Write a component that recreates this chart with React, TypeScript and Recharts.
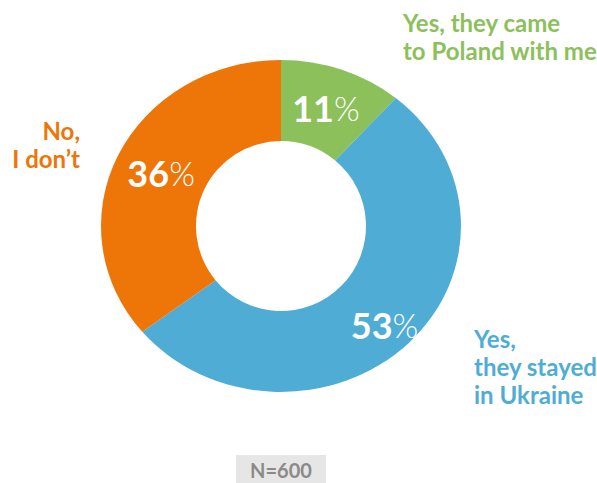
import React from 'react';
import { PieChart, Pie, Cell } from 'recharts';

const categories = ['Yes, they came to Poland with me', 'Yes, they stayed in Ukraine', "No, I don’t"];
const shares = [11, 53, 36];
const colors = ['#8cc05b', '#4fadd5', '#ee7508'];
const labelLines = [
  ['Yes, they came', 'to Poland with me'],
  ['Yes,', 'they stayed', 'in Ukraine'],
  ['No,', 'I don’t'],
];
const sampleNote = 'N=600';

const data = categories.map((name, i) => ({ name, value: shares[i] }));

const RADIAN = Math.PI / 180;
// the ring in the original is a little wider than it is tall
const STRETCH_X = 180 / 166;

const pt = (cx: number, cy: number, rx: number, ry: number, a: number) =>
  `${cx + rx * Math.cos(-a * RADIAN)},${cy + ry * Math.sin(-a * RADIAN)}`;

const RingSector = (props: any) => {
  const { cx, cy, innerRadius, outerRadius, startAngle, endAngle, fill } = props;
  const orx = outerRadius * STRETCH_X;
  const ory = outerRadius;
  const large = Math.abs(endAngle - startAngle) > 180 ? 1 : 0;
  const sweep = endAngle < startAngle ? 1 : 0;
  const d = [
    `M${pt(cx, cy, orx, ory, startAngle)}`,
    `A${orx},${ory} 0 ${large} ${sweep} ${pt(cx, cy, orx, ory, endAngle)}`,
    `L${pt(cx, cy, innerRadius, innerRadius, endAngle)}`,
    `A${innerRadius},${innerRadius} 0 ${large} ${1 - sweep} ${pt(cx, cy, innerRadius, innerRadius, startAngle)}`,
    'Z',
  ].join(' ');
  return <path d={d} fill={fill} stroke="none" />;
};

// percent label inside each ring segment
const renderValue = (props: any) => {
  const { cx, cy, midAngle, innerRadius, outerRadius, value, index } = props;
  const extra = index === 1 ? 14 : 0;
  const rx = (innerRadius + outerRadius * STRETCH_X) / 2 + extra;
  const ry = (innerRadius + outerRadius) / 2 + extra;
  const x = cx + rx * Math.cos(-midAngle * RADIAN);
  const y = cy + ry * Math.sin(-midAngle * RADIAN);
  return (
    <text x={x} y={y} fill="#fff" textAnchor="middle" dominantBaseline="central" fontFamily="Lato">
      <tspan fontSize={36} fontWeight={700}>{value}</tspan>
      <tspan fontSize={33} fontWeight={300}>%</tspan>
    </text>
  );
};

const labelStyle: React.CSSProperties = {
  position: 'absolute',
  fontFamily: 'Lato',
  fontWeight: 700,
  fontSize: 24,
  lineHeight: '28px',
  whiteSpace: 'nowrap',
};

export default function App() {
  return (
    <div style={{ position: 'absolute', left: 0, top: 0, width: 597, height: 483, background: '#fff', overflow: 'hidden' }}>
      <PieChart width={597} height={483} margin={{ top: 0, right: 0, bottom: 0, left: 0 }}>
        <Pie
          data={data}
          dataKey="value"
          cx={281}
          cy={226}
          innerRadius={85}
          outerRadius={166}
          startAngle={90}
          endAngle={-270}
          stroke="none"
          shape={RingSector}
          label={renderValue}
          labelLine={false}
          isAnimationActive={false}
        >
          {data.map((d, i) => (
            <Cell key={d.name} fill={colors[i]} />
          ))}
        </Pie>
      </PieChart>

      <div style={{ ...labelStyle, left: 403, top: 9, color: colors[0] }}>
        {labelLines[0].map((l) => <div key={l}>{l}</div>)}
      </div>
      <div style={{ ...labelStyle, left: 474, top: 325, color: colors[1] }}>
        {labelLines[1].map((l) => <div key={l}>{l}</div>)}
      </div>
      <div style={{ ...labelStyle, right: 597 - 80, top: 117, color: colors[2], textAlign: 'right' }}>
        {labelLines[2].map((l) => <div key={l}>{l}</div>)}
      </div>

      <div
        style={{
          position: 'absolute',
          left: 236,
          top: 455,
          width: 90,
          height: 30,
          background: '#e6e6e6',
          color: '#8a8a8a',
          fontFamily: 'Lato',
          fontWeight: 700,
          fontSize: 20,
          lineHeight: '30px',
          textAlign: 'center',
        }}
      >
        {sampleNote}
      </div>
    </div>
  );
}
